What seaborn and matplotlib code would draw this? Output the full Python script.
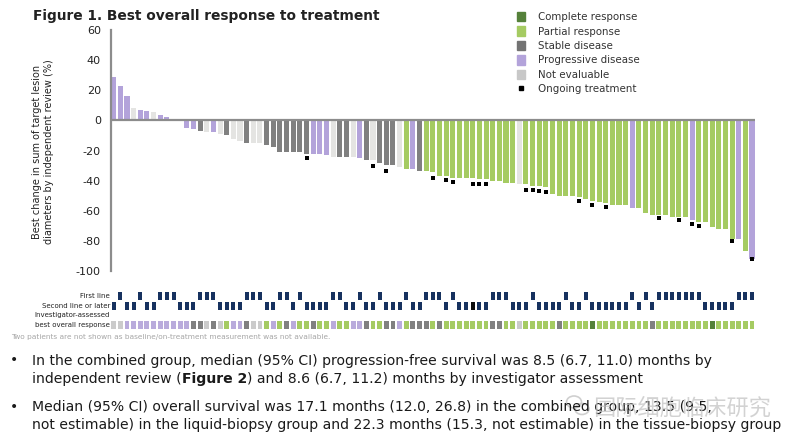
import matplotlib
matplotlib.use('Agg')
import matplotlib.pyplot as plt
from matplotlib.lines import Line2D
from matplotlib.patches import Ellipse, Patch
from matplotlib.transforms import IdentityTransform
import pandas as pd
import seaborn as sns

# Best change per patient
change = [28.5, 23, 16, 8, 7, 6, 5.5, 3.5, 2.2, 1, 0.5, -5, -6, -7, -8, -8, -9, -9.5, -12.5, -14,
          -15, -15, -15, -16.5, -17.5, -20.8, -20.8, -20.8, -20.8, -22, -22, -22, -23, -24, -24,
          -24, -24, -25, -26, -26, -28.5, -29.6, -29.6, -31, -32, -32, -33.4, -33.5, -34, -37,
          -37, -38, -38, -38, -38.5, -39, -39, -40, -40.5, -41.3, -41.3, -42.5, -42.5, -43.5,
          -43.5, -44.5, -49, -50, -50, -50, -51, -52.4, -53.5, -54, -54.6, -56, -56, -56, -58,
          -58, -61.7, -63, -63, -63, -64, -64, -64, -66.4, -67.5, -67.5, -70.8, -72, -72, -78.5,
          -79, -87, -92.3]

# Independent review response for each bar
review = ['PD', 'PD', 'PD', 'NE', 'PD', 'PD', 'NE', 'PD', 'PD', 'SD', 'NE', 'PD', 'PD', 'SD', 'NE',
          'PD', 'NE', 'SD', 'NE', 'NE', 'SD', 'NE', 'NE', 'SD', 'SD', 'SD', 'SD', 'SD', 'SD', 'SD',
          'PD', 'PD', 'PD', 'NE', 'SD', 'SD', 'NE', 'PD', 'SD', 'NE', 'SD', 'SD', 'SD', 'NE', 'PR',
          'PD', 'SD'] + ['PR'] * 14 + ['NE'] + ['PR'] * 16 + ['PD'] + ['PR'] * 8 + ['PD'] + ['PR'] * 6 + ['PD', 'PR', 'PD']

# Investigator response row under the chart
investigator = ['NE', 'NE'] + ['PD'] * 10 + ['SD', 'SD', 'NE', 'SD', 'NE', 'PR', 'PD', 'PD', 'SD', 'NE', 'NE',
                'PR', 'PD', 'PR', 'SD', 'PD', 'PR', 'PR', 'SD', 'PR', 'PR', 'PD', 'PR', 'PR', 'PD', 'PD', 'SD',
                'PR', 'PR', 'SD', 'SD', 'PD', 'PR', 'SD', 'SD', 'SD', 'PR', 'SD'] + ['PR'] * 7 + ['SD', 'SD',
                'PR', 'PR', 'NE'] + ['PR'] * 5 + ['SD'] + ['PR'] * 4 + ['CR'] + ['PR'] * 8 + ['SD'] + ['PR'] * 8 + ['CR'] + ['PR'] * 6

first_line = [2, 5, 8, 9, 10, 14, 15, 16, 21, 22, 23, 26, 27, 29, 34, 35, 38, 41, 45, 48, 49, 50, 52, 58, 59, 60,
              64, 69, 72, 79, 81, 83, 84, 85, 86, 87, 88, 89, 95, 96, 97]
ongoing_patient = [30, 40, 42, 49, 51, 52, 55, 56, 57, 63, 64, 65, 66, 71, 73, 75, 83, 86, 88, 89, 94, 97]
ongoing_value = [-25, -30.5, -33.8, -38, -39.4, -41, -42, -42, -42.5, -46.5, -46.5, -47, -47.5, -53.5, -56,
                 -57.3, -65, -66, -68.6, -70, -80.3, -92.3]

labels = {'CR': 'Complete response', 'PR': 'Partial response', 'SD': 'Stable disease',
          'PD': 'Progressive disease', 'NE': 'Not evaluable'}
bar_colors = {'CR': '#55813a', 'PR': '#a5cb62', 'SD': '#808080', 'PD': '#b3a3da', 'NE': '#e4e4e2'}
cell_colors = {'CR': '#55813a', 'PR': '#a5cb62', 'SD': '#808080', 'PD': '#b9abdc', 'NE': '#cbcbcb'}
legend_colors = {'CR': '#55813a', 'PR': '#a5cb62', 'SD': '#737373', 'PD': '#b3a3da', 'NE': '#c8c8c8'}

patients = list(range(1, len(change) + 1))
df = pd.DataFrame({'patient': patients, 'change': change, 'review': review, 'investigator': investigator})
df['line'] = [0 if p in first_line else 1 for p in patients]
df['row'] = 3

sns.set_theme(style='white')
plt.rcParams['font.family'] = ['DejaVu Sans', 'Noto Sans CJK SC']
plt.rcParams['axes.unicode_minus'] = False
W, H = 800, 442
fig = plt.figure(figsize=(W / 100, H / 100), dpi=100)


def px_axes(left, top, right, bottom):
    return fig.add_axes([left / W, 1 - bottom / H, (right - left) / W, (bottom - top) / H])


xlim = (0.52, 97.45)

# Waterfall
ax = px_axes(110.5, 30, 755, 271)
sns.barplot(data=df, x='patient', y='change', hue='review', palette=bar_colors, dodge=False, native_scale=True,
            width=0.76, saturation=1, linewidth=0, legend=False, ax=ax, zorder=2)
sns.scatterplot(x=ongoing_patient, y=ongoing_value, marker='s', s=6, color='black', linewidth=0, ax=ax, zorder=3)
ax.axhline(0, color='#8c8c8c', lw=1.6, zorder=4)
ax.set_xlim(xlim)
ax.set_ylim(-100, 60)
ax.set_yticks(range(-100, 61, 20))
ax.set_xticks([])
ax.set_xlabel('')
ax.set_ylabel('')
ax.tick_params(axis='y', labelsize=8, length=2, width=1, direction='in', color='#8c8c8c', pad=7, labelcolor='#222222')
for s in ['top', 'right', 'bottom']:
    ax.spines[s].set_visible(False)
ax.spines['left'].set_color('#8c8c8c')
ax.spines['left'].set_linewidth(1.6)
ax.patch.set_alpha(0)

fig.text(33 / W, 1 - 16 / H, 'Figure 1. Best overall response to treatment', fontsize=9.9, fontweight='bold',
         va='center', color='#222222')
fig.text(43 / W, 1 - 152 / H, 'Best change in sum of target lesion\ndiameters by independent review (%)',
         fontsize=7, rotation=90, ha='center', va='center', color='#222222', linespacing=1.25)

# Legend
handles = [Patch(color=legend_colors[k], label=labels[k]) for k in labels]
handles.append(Line2D([], [], marker='s', ms=2.2, color='black', ls='', label='Ongoing treatment'))
fig.legend(handles=handles, loc='upper left', bbox_to_anchor=(517 / W, 1 - 12 / H), frameon=False, fontsize=7.4,
           handlelength=0.8, handleheight=1.0, handletextpad=1.27, labelspacing=0.42, borderpad=0, borderaxespad=0,
           labelcolor='#333333')

# Patient rows under the chart
cell = [(-4.5, -7), (4.5, -7), (4.5, 7), (-4.5, 7)]
grid = px_axes(110.5, 289, 755, 331)
sns.scatterplot(data=df, x='patient', y='line', marker=cell, s=30, color='#17325f', linewidth=0, ax=grid, legend=False)
sns.scatterplot(x=[55], y=[1], marker=cell, s=30, color='#0c0c0c', linewidth=0, ax=grid, zorder=3)
sns.scatterplot(data=df, x='patient', y='row', hue='investigator', palette=cell_colors, marker=cell,
                s=30, linewidth=0, ax=grid, legend=False)
grid.set_xlim(xlim)
grid.set_ylim(3.6, -0.73)
grid.axis('off')

row_labels = ['First line', 'Second line or later', 'Investigator-assessed', 'best overall response']
for label, y in zip(row_labels, [296, 305.5, 315, 325]):
    fig.text(110 / W, 1 - y / H, label, fontsize=5, ha='right', va='center', color='#222222')
fig.text(11 / W, 1 - 337 / H, 'Two patients are not shown as baseline/on-treatment measurement was not available.',
         fontsize=5.3, va='center', color='#a6a6a6')

# Bullets
body = dict(fontsize=10.1, color='#1a1a1a', va='center')
for y in [360, 407]:
    fig.text(10 / W, 1 - y / H, '•', **body)
fig.text(32 / W, 1 - 361 / H, 'In the combined group, median (95% CI) progression-free survival was 8.5 (6.7, 11.0) months by', **body)
t = fig.text(32 / W, 1 - 379.5 / H, 'independent review (', **body)
t = ax.annotate('Figure 2', xy=(1, 0), xycoords=t, va='bottom', annotation_clip=False, fontsize=10.1,
                fontweight='bold', color='#1a1a1a')
ax.annotate(') and 8.6 (6.7, 11.2) months by investigator assessment', xy=(1, 0), xycoords=t, va='bottom',
            annotation_clip=False, fontsize=10.1, color='#1a1a1a')
fig.text(32 / W, 1 - 407 / H, 'Median (95% CI) overall survival was 17.1 months (12.0, 26.8) in the combined group, 13.5 (9.5,', **body)
fig.text(32 / W, 1 - 425 / H, 'not estimable) in the liquid-biopsy group and 22.3 months (15.3, not estimable) in the tissue-biopsy group', **body)

# Watermark with its small chat icon
fig.text(593 / W, 1 - 408 / H, '国际细胞临床研究', fontsize=16, va='center', color='#c4c4c4', alpha=0.75,
         family=['Noto Sans CJK SC', 'DejaVu Sans'])
for cx, cy, w, h in [(574, 402, 15, 12), (582, 409, 14, 11)]:
    fig.add_artist(Ellipse((cx, H - cy), w, h, transform=IdentityTransform(), fill=False, ec='#c4c4c4', lw=1.2, alpha=0.8))

fig.savefig('out.png', dpi=100)
